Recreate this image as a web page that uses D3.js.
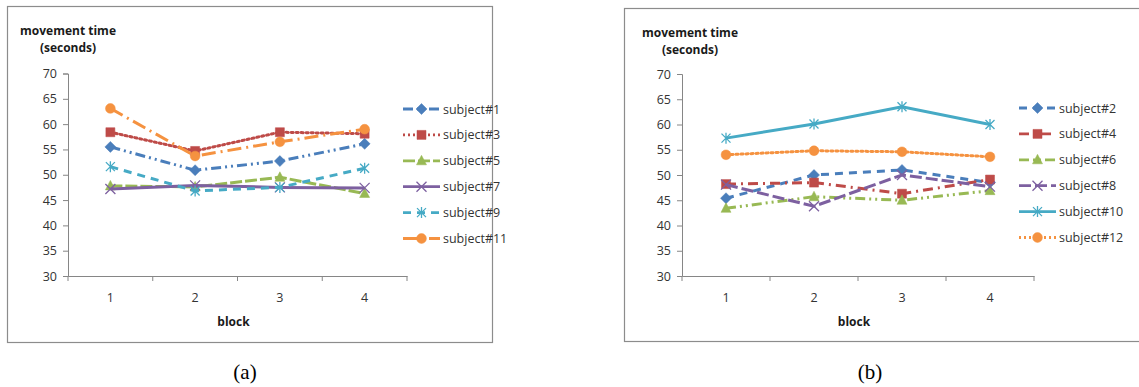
<!DOCTYPE html>
<html>
<head>
<meta charset="utf-8">
<script src="https://cdn.jsdelivr.net/npm/d3@7"></script>
<style>
  body { margin: 0; background: #fff; }
  svg { display: block; }
  .tick text { font-family: 'Open Sans', sans-serif; font-size: 12.5px; fill: #333; }
  .legend text { font-family: 'Open Sans', sans-serif; font-size: 12.5px; fill: #333; }
  .title { font-family: 'Open Sans', sans-serif; font-size: 12px; font-weight: bold; fill: #1a1a1a; }
  .caption { font-family: 'Liberation Serif', serif; font-size: 21px; fill: #000; }
</style>
</head>
<body>
<svg id="chart" width="1139" height="387"></svg>
<script>
  'use strict';

  var blocks = [1, 2, 3, 4],
      yTicks = [30, 35, 40, 45, 50, 55, 60, 65, 70];

  // panel (a): odd subjects
  var subjectsA = ['subject#1', 'subject#3', 'subject#5', 'subject#7', 'subject#9', 'subject#11'];
  var valuesA = [
    [55.5, 50.9, 52.7, 56.1],
    [58.4, 54.7, 58.4, 58.1],
    [47.8, 47.6, 49.5, 46.3],
    [47.2, 47.9, 47.5, 47.4],
    [51.6, 46.8, 47.5, 51.3],
    [63.1, 53.7, 56.5, 59.0]
  ];

  // panel (b): even subjects
  var subjectsB = ['subject#2', 'subject#4', 'subject#6', 'subject#8', 'subject#10', 'subject#12'];
  var valuesB = [
    [45.4, 50.0, 51.0, 48.5],
    [48.2, 48.5, 46.3, 49.1],
    [43.4, 45.7, 45.0, 46.9],
    [48.1, 43.8, 50.0, 47.7],
    [57.3, 60.1, 63.5, 60.0],
    [54.0, 54.8, 54.6, 53.6]
  ];

  var colors = ['#4a7ebb', '#be4b48', '#98b954', '#7d60a0', '#46aac5', '#f59240'],
      markers = ['diamond', 'square', 'triangle', 'cross', 'star', 'circle'];

  var dashesA = ['10,4,2,4,2,4', '2,3', '12,3', null, '8,6', '14,5,2,5'],
      dashesB = ['8,6', '10,5,2,5', '10,4,2,4,2,4', '12,4', null, '2,3'];

  var svg = d3.select('#chart');

  function markerPath(type) {
    if (type === 'diamond') return 'M0,-5.5L5.5,0L0,5.5L-5.5,0Z';
    if (type === 'square') return 'M-4.5,-4.5H4.5V4.5H-4.5Z';
    if (type === 'triangle') return 'M0,-5.5L5,4L-5,4Z';
    if (type === 'circle') return d3.symbol(d3.symbolCircle, 75)();
    if (type === 'cross') return 'M-5,-5L5,5M-5,5L5,-5';
    return 'M-4.5,-4.5L4.5,4.5M-4.5,4.5L4.5,-4.5M0,-5.5V5.5';
  }

  function drawMarker(g, type, color, x, y) {
    var open = (type === 'cross' || type === 'star');
    g.append('path')
      .attr('transform', 'translate(' + x + ',' + y + ')')
      .attr('d', markerPath(type))
      .style('fill', open ? 'none' : color)
      .style('stroke', color)
      .style('stroke-width', open ? 1.3 : 0.5);
  }

  function drawPanel(cfg) {
    var g = svg.append('g');

    // frame
    g.append('rect')
      .attr('x', cfg.box[0] + 0.5).attr('y', cfg.box[1] + 0.5)
      .attr('width', cfg.box[2]).attr('height', cfg.box[3])
      .style('fill', 'none').style('stroke', '#8c8c8c').style('stroke-width', 1.2);

    var x = d3.scaleBand().domain(blocks).range([cfg.left, cfg.right]).padding(0),
        y = d3.scaleLinear().domain([30, 70]).range([cfg.bottom, cfg.top]);

    function cx(d) { return x(d) + x.bandwidth() / 2; }

    // y axis
    g.append('g')
      .attr('transform', 'translate(' + cfg.left + ',0)')
      .call(d3.axisLeft(y).tickValues(yTicks).tickSize(5).tickPadding(6))
      .call(function(a) {
        a.select('.domain').style('stroke', '#868686');
        a.selectAll('.tick line').style('stroke', '#868686');
      });

    // x axis: labels at centres, ticks at block boundaries
    g.append('g')
      .attr('transform', 'translate(0,' + cfg.bottom + ')')
      .call(d3.axisBottom(x).tickSize(0).tickPadding(17).tickSizeOuter(0))
      .call(function(a) { a.select('.domain').style('stroke', '#868686'); });

    g.selectAll('.xb')
      .data(blocks.concat([null]))
      .enter().append('line')
        .attr('x1', function(d) { return d === null ? cfg.right : x(d); })
        .attr('x2', function(d) { return d === null ? cfg.right : x(d); })
        .attr('y1', cfg.bottom).attr('y2', cfg.bottom + 5)
        .style('stroke', '#868686');

    // titles
    g.append('text').attr('class', 'title')
      .attr('x', cfg.titleX).attr('y', cfg.box[1] + 29)
      .attr('text-anchor', 'middle').text('movement time');
    g.append('text').attr('class', 'title')
      .attr('x', cfg.titleX).attr('y', cfg.box[1] + 46)
      .attr('text-anchor', 'middle').text('(seconds)');
    g.append('text').attr('class', 'title')
      .attr('x', (cfg.left + cfg.right) / 2 - 4).attr('y', cfg.bottom + 50)
      .attr('text-anchor', 'middle').text('block');

    // series
    var line = d3.line()
      .x(function(d, i) { return cx(blocks[i]); })
      .y(function(d) { return y(d); });

    cfg.values.forEach(function(vals, s) {
      g.append('path')
        .attr('d', line(vals))
        .style('fill', 'none')
        .style('stroke', colors[s])
        .style('stroke-width', 3)
        .style('stroke-dasharray', cfg.dashes[s])
        .style('stroke-linecap', cfg.dashes[s] === '2,3' ? 'round' : 'butt');
      vals.forEach(function(v, i) {
        drawMarker(g, markers[s], colors[s], cx(blocks[i]), y(v));
      });
    });

    // legend
    var leg = g.append('g').attr('class', 'legend');
    cfg.names.forEach(function(name, s) {
      var ly = cfg.legendY + s * 25.9;
      leg.append('line')
        .attr('x1', cfg.legendX).attr('x2', cfg.legendX + 37)
        .attr('y1', ly).attr('y2', ly)
        .style('stroke', colors[s])
        .style('stroke-width', 2.8)
        .style('stroke-dasharray', cfg.dashes[s]);
      drawMarker(leg, markers[s], colors[s], cfg.legendX + 18.5, ly);
      leg.append('text')
        .attr('x', cfg.legendX + 40).attr('y', ly + 4.5)
        .text(name);
    });

    svg.append('text').attr('class', 'caption')
      .attr('x', cfg.captionX).attr('y', 379)
      .attr('text-anchor', 'middle').text(cfg.caption);
  }

  drawPanel({
    box: [7, 6, 485, 336],
    left: 68, right: 407, top: 73.5, bottom: 276,
    titleX: 68, legendX: 403, legendY: 109,
    names: subjectsA, values: valuesA, dashes: dashesA,
    caption: '(a)', captionX: 245
  });

  drawPanel({
    box: [624, 8, 540, 333],
    left: 682, right: 1034, top: 74, bottom: 276,
    titleX: 690, legendX: 1019, legendY: 108,
    names: subjectsB, values: valuesB, dashes: dashesB,
    caption: '(b)', captionX: 870
  });
</script>
</body>
</html>
